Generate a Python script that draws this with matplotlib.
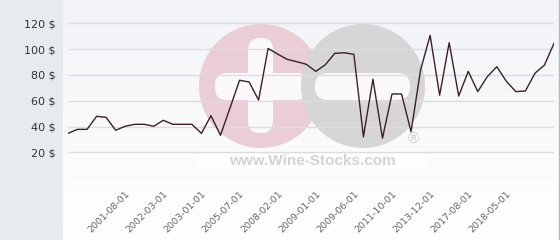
import numpy as np
import matplotlib
matplotlib.use("Agg")
import matplotlib.pyplot as plt
from matplotlib.patches import Rectangle, Circle, FancyBboxPatch

# price per bottle, one value per sale
prices = [34.8, 37.9, 37.9, 48.0, 47.2, 37.2, 40.3, 41.8, 41.8, 40.3,
          44.9, 41.8, 41.8, 41.8, 34.8, 48.5, 33.3, 54.4, 75.9, 74.6,
          60.6, 100.5, 96.2, 92.1, 90.3, 88.3, 82.8, 87.9, 96.8, 97.2,
          96.0, 32.2, 76.7, 31.0, 65.3, 65.3, 36.1, 83.9, 110.7, 64.3,
          105.0, 63.7, 82.8, 67.1, 78.7, 86.4, 75.1, 67.1, 67.6, 81.3,
          87.7, 104.5]
tick_labels = ["2001-08-01", "2002-03-01", "2003-01-01", "2005-07-01",
               "2008-02-01", "2009-01-01", "2009-06-01", "2011-10-01",
               "2013-12-01", "2017-08-01", "2018-05-01"]
y_ticks = [0, 20, 40, 60, 80, 100, 120]

W, H = 560, 240
fig = plt.figure(figsize=(W / 100, H / 100), dpi=100)

# background layer in pixel coordinates
bg = fig.add_axes([0, 0, 1, 1], zorder=0)
bg.set_xlim(0, W)
bg.set_ylim(H, 0)
bg.axis("off")
bg.add_patch(Rectangle((0, 0), 63, H, facecolor="#e7ebee", edgecolor="none"))
grad = np.linspace(0, 1, 100).reshape(-1, 1)
top = np.array([0.952, 0.956, 0.972])
bot = np.array([1.0, 1.0, 1.0])
img = top + (bot - top) * grad[:, :, None]
bg.imshow(img, extent=(63, W, H, 0), aspect="auto", zorder=0)
bg.plot([559, 559], [0, H], color="#b8b8b8", lw=1, zorder=1)

# watermark
bg.add_patch(Circle((261, 86), 62, facecolor="#eacdd5", edgecolor="none", zorder=2))
for (x, y, w, h) in [(248, 38, 25, 95), (215, 73, 93, 27)]:
    bg.add_patch(FancyBboxPatch((x, y), w, h, boxstyle="round,pad=0,rounding_size=12",
                                facecolor="#f9f9fb", edgecolor="none", zorder=3))
bg.add_patch(Circle((363, 86), 62, facecolor="#d6d6d8", edgecolor="none", zorder=4))
bg.add_patch(FancyBboxPatch((315, 73), 95, 27, boxstyle="round,pad=0,rounding_size=13",
                            facecolor="#f9f9fb", edgecolor="none", zorder=5))
bg.add_patch(Rectangle((197, 150), 230, 24, facecolor="white", alpha=0.6,
                       edgecolor="none", zorder=5))
bg.text(312, 161, "www.Wine-Stocks.com", fontsize=11, fontweight="bold",
        family="Liberation Sans", color="#d4d4d4", ha="center", va="center", zorder=6)
bg.text(413, 139, "\u00ae", fontsize=11, color="#cfcfcf", ha="center", va="center",
        family="Liberation Sans", zorder=6)

# main chart
ax = fig.add_axes([68 / W, (H - 178.3) / H, 486 / W, 178.3 / H], zorder=1)
ax.patch.set_visible(False)
x = np.arange(len(prices))
ax.plot(x, prices, color="#3b1f2b", lw=1, zorder=3)
ax.set_xlim(0, len(prices) - 1)
ax.set_ylim(0, 178.3 * 20 / 25.83)
ax.set_yticks(y_ticks)
ax.set_yticklabels(["" if v == 0 else f"{v} $" for v in y_ticks])
ax.yaxis.grid(True, color="#dcdde0", lw=1)
ax.set_axisbelow(True)
ax.set_xticks(np.arange(6, 6 + 4 * len(tick_labels), 4))
ax.set_xticklabels(tick_labels, rotation=45, ha="right", rotation_mode="anchor",
                   fontsize=6.8, color="#666666")
ax.tick_params(axis="x", length=0, pad=8)
ax.tick_params(axis="y", length=0, pad=9, labelsize=8, labelcolor="#333333")
for s in ax.spines.values():
    s.set_visible(False)

fig.savefig("out.png", dpi=100)
